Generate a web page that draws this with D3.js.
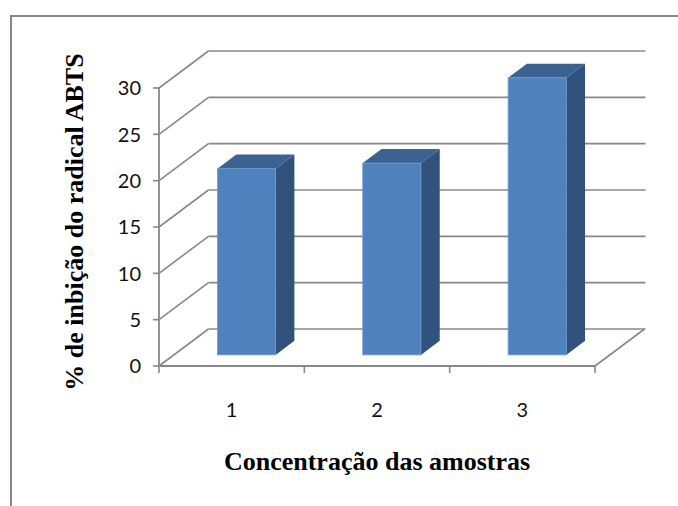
<!DOCTYPE html>
<html>
<head>
<meta charset="utf-8">
<script src="https://cdn.jsdelivr.net/npm/d3@7"></script>
<style>
  html, body { margin: 0; padding: 0; background: #fff; }
  svg { display: block; }
</style>
</head>
<body>
<script>
// Inhibition of the ABTS radical per sample concentration
const categories = ["1", "2", "3"];
const values = [20.1, 20.7, 29.9];
const yTicks = [0, 5, 10, 15, 20, 25, 30];
const yTitle = "% de inbição do radical ABTS";
const xTitle = "Concentração das amostras";

const W = 678, H = 506;
const svg = d3.select("body").append("svg").attr("width", W).attr("height", H);

// Chart frame (runs off the right and bottom edges)
svg.append("rect")
  .attr("x", 11).attr("y", 16).attr("width", W + 20).attr("height", H + 20)
  .attr("fill", "#fff").attr("stroke", "#878787").attr("stroke-width", 2);

// Front plane geometry and depth projection
const x0 = 159, x1 = 595, yBase = 366;
const depthX = 49.5, depthY = -37;
const x = d3.scaleBand().domain(categories).range([x0, x1]).paddingInner(0).paddingOuter(0);
const y = d3.scaleLinear().domain([0, 30]).range([yBase, 88]);
const proj = (px, py, d) => [px + d * depthX, py + d * depthY];

const gridColor = "#888888";
const g = svg.append("g");

// Side wall and back wall gridlines
yTicks.forEach(t => {
  const [bx, by] = proj(x0, y(t), 1);
  const [ex] = proj(x1, y(t), 1);
  g.append("line").attr("x1", x0).attr("y1", y(t)).attr("x2", bx).attr("y2", by)
    .attr("stroke", gridColor).attr("stroke-width", 1.6);
  g.append("line").attr("x1", bx).attr("y1", by).attr("x2", ex + 1).attr("y2", by)
    .attr("stroke", gridColor).attr("stroke-width", 1.6);
});

// Floor: front edge and right edge
const [frx, fry] = proj(x1, yBase, 1);
g.append("line").attr("x1", x0).attr("y1", yBase).attr("x2", x1).attr("y2", yBase)
  .attr("stroke", gridColor).attr("stroke-width", 1.8);
g.append("line").attr("x1", x1).attr("y1", yBase).attr("x2", frx).attr("y2", fry)
  .attr("stroke", gridColor).attr("stroke-width", 1.6);

// Vertical axis line and ticks
g.append("line").attr("x1", x0).attr("y1", y(30) - 1).attr("x2", x0).attr("y2", yBase + 1)
  .attr("stroke", gridColor).attr("stroke-width", 1.8);
yTicks.forEach(t => {
  g.append("line").attr("x1", x0 - 6).attr("y1", y(t)).attr("x2", x0).attr("y2", y(t))
    .attr("stroke", gridColor).attr("stroke-width", 1.6);
});
// Category ticks on the floor front edge
const catEdges = categories.map(c => x(c)).concat([x1]);
catEdges.forEach(cx => {
  g.append("line").attr("x1", cx).attr("y1", yBase).attr("x2", cx).attr("y2", yBase + 7)
    .attr("stroke", gridColor).attr("stroke-width", 1.6);
});

// 3D columns
const dFront = 0.3, dBack = 0.68;
const gap = 0.3;
const bars = svg.append("g");
categories.forEach((c, i) => {
  const v = values[i];
  const bw = x.bandwidth() * (1 - 2 * gap);
  const [fxL, fyB] = proj(x(c) + x.bandwidth() * gap, yBase, dFront);
  const fxR = fxL + bw;
  const fyT = fyB - (y(0) - y(v));
  const ddx = (dBack - dFront) * depthX, ddy = (dBack - dFront) * depthY;
  // side face
  bars.append("path")
    .attr("d", `M${fxR},${fyB} L${fxR + ddx},${fyB + ddy} L${fxR + ddx},${fyT + ddy} L${fxR},${fyT} Z`)
    .attr("fill", "#31527C");
  // top face
  bars.append("path")
    .attr("d", `M${fxL},${fyT} L${fxL + ddx},${fyT + ddy} L${fxR + ddx},${fyT + ddy} L${fxR},${fyT} Z`)
    .attr("fill", "#3B6291");
  // front face
  bars.append("rect")
    .attr("x", fxL).attr("y", fyT).attr("width", bw).attr("height", fyB - fyT)
    .attr("fill", "#4F81BD").attr("stroke", "#6F9BD2").attr("stroke-width", 0.8);
});

// Tick labels
const tickFont = "Lato, 'Open Sans', sans-serif";
yTicks.forEach(t => {
  svg.append("text").attr("x", 141).attr("y", y(t)).attr("dy", "0.36em")
    .attr("text-anchor", "end").attr("font-family", tickFont).attr("font-size", 20)
    .attr("fill", "#111").text(t);
});
categories.forEach(c => {
  svg.append("text").attr("x", x(c) + x.bandwidth() / 2).attr("y", 417)
    .attr("text-anchor", "middle").attr("font-family", tickFont).attr("font-size", 20)
    .attr("fill", "#111").text(c);
});

// Axis titles
const titleFont = "'Liberation Serif', 'Times New Roman', serif";
svg.append("text").attr("transform", "translate(83,222) rotate(-90)")
  .attr("text-anchor", "middle").attr("font-family", titleFont).attr("font-weight", "bold")
  .attr("font-size", 26).attr("fill", "#000").text(yTitle);
svg.append("text").attr("x", 377).attr("y", 470)
  .attr("text-anchor", "middle").attr("font-family", titleFont).attr("font-weight", "bold")
  .attr("font-size", 26).attr("fill", "#000").text(xTitle);
</script>
</body>
</html>
